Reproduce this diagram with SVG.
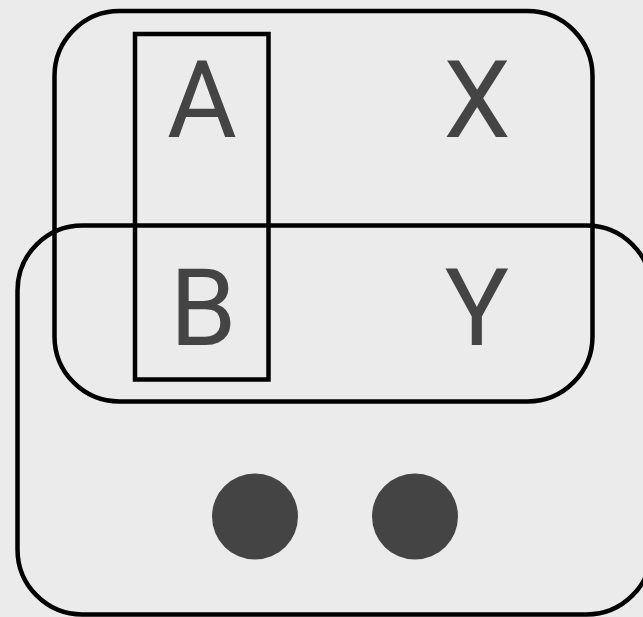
<svg xmlns="http://www.w3.org/2000/svg" width="643" height="617" viewBox="0 0 643 617">
<style>
.frame{fill:none;stroke:#000;stroke-width:4.5}
.lbl{font-family:Roboto,"Liberation Sans",sans-serif;font-size:107px;fill:#444;text-anchor:middle}
.dot{fill:#444}
</style>
<rect width="643" height="617" fill="#ebebeb"/>
<g id="bottom-group">
<rect class="frame" x="17.5" y="225.5" width="634" height="389" rx="65" ry="65"/>
</g>
<g id="top-group">
<rect class="frame" x="54.5" y="11" width="538" height="390.5" rx="65" ry="65"/>
</g>
<g id="column-AB">
<rect class="frame" x="135" y="34" width="133.5" height="345.5"/>
</g>
<g id="node-A"><text class="lbl" x="202" y="137">A</text></g>
<g id="node-X"><text class="lbl" x="477" y="137">X</text></g>
<g id="node-B"><text class="lbl" x="203" y="345">B</text></g>
<g id="node-Y"><text class="lbl" x="477" y="345">Y</text></g>
<g id="dot-1"><circle class="dot" cx="255" cy="516.5" r="43"/></g>
<g id="dot-2"><circle class="dot" cx="415" cy="516.5" r="43"/></g>
<g id="connectors"></g>
</svg>
